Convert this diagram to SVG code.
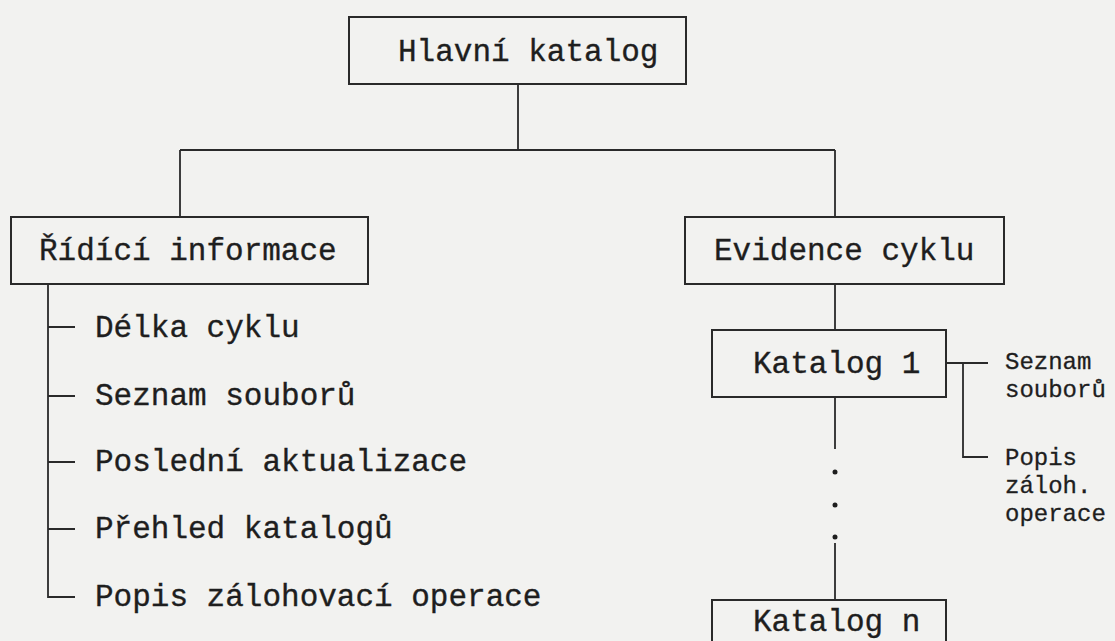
<svg xmlns="http://www.w3.org/2000/svg" width="1115" height="641" viewBox="0 0 1115 641">
<style>
.bg{fill:#f2f2f0}
.box{fill:none;stroke:#2a2a2a;stroke-width:2}
.ln{fill:none;stroke:#2a2a2a;stroke-width:1.8}
.t{font-family:"Liberation Mono","Courier New",monospace;font-size:31px;fill:#1e1e1e;stroke:#1e1e1e;stroke-width:0.35}
.s{font-family:"Liberation Mono","Courier New",monospace;font-size:24px;fill:#1e1e1e;stroke:#1e1e1e;stroke-width:0.3}
.dot{fill:#1e1e1e}
</style>
<rect class="bg" x="0" y="0" width="1115" height="641"/>
<g id="connectors">
<path class="ln" d="M518 84 V150 M180 150 H835 M180 150 V217 M835 150 V217"/>
<path class="ln" d="M48 284 V597 H75 M48 327 H75 M48 396 H75 M48 462 H75 M48 529 H75"/>
<path class="ln" d="M835 284 V330 M835 397 V449 M835 543 V600"/>
<circle class="dot" cx="835" cy="472" r="2.5"/>
<circle class="dot" cx="835" cy="505" r="2.5"/>
<circle class="dot" cx="835" cy="537" r="2.5"/>
<path class="ln" d="M946 363 H988 M963 363 V457 H988"/>
</g>
<g id="hlavni">
<rect class="box" x="349" y="17" width="337" height="67"/>
<text class="t" x="398" y="61">Hlavní katalog</text>
</g>
<g id="ridici">
<rect class="box" x="11" y="217" width="357" height="67"/>
<text class="t" x="39" y="260">Řídící informace</text>
</g>
<g id="evidence">
<rect class="box" x="685" y="217" width="319" height="67"/>
<text class="t" x="714" y="260">Evidence cyklu</text>
</g>
<g id="ridici-items">
<text class="t" x="95" y="337">Délka cyklu</text>
<text class="t" x="95" y="405">Seznam souborů</text>
<text class="t" x="95" y="471">Poslední aktualizace</text>
<text class="t" x="95" y="538">Přehled katalogů</text>
<text class="t" x="95" y="606">Popis zálohovací operace</text>
</g>
<g id="katalog1">
<rect class="box" x="712" y="330" width="234" height="67"/>
<text class="t" x="753" y="373">Katalog 1</text>
</g>
<g id="katalog1-items">
<text class="s" x="1005" y="369">Seznam</text>
<text class="s" x="1005" y="397">souborů</text>
<text class="s" x="1005" y="465">Popis</text>
<text class="s" x="1005" y="493">záloh.</text>
<text class="s" x="1005" y="521">operace</text>
</g>
<g id="katalogn">
<rect class="box" x="712" y="600" width="234" height="67"/>
<text class="t" x="753" y="631">Katalog n</text>
</g>
</svg>
